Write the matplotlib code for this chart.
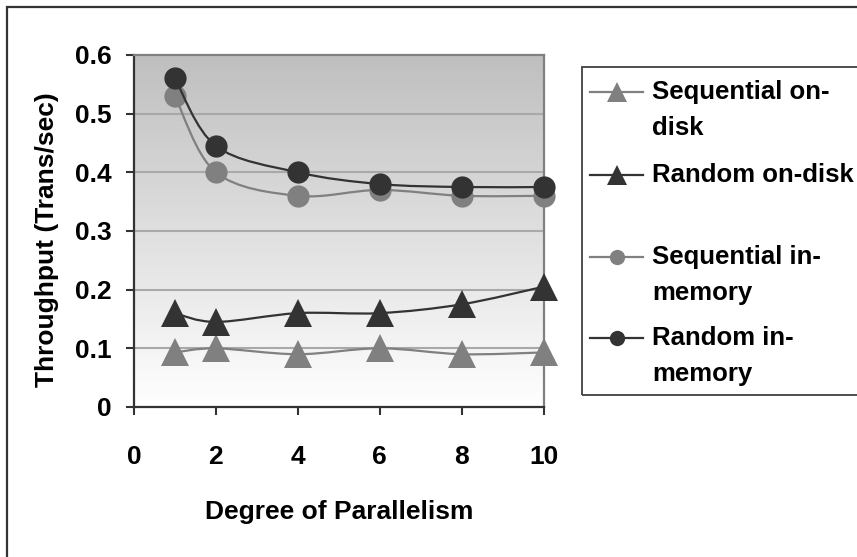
import numpy as np
import matplotlib
matplotlib.use("Agg")
import matplotlib.pyplot as plt
from matplotlib.path import Path
from matplotlib.patches import PathPatch, Rectangle
from matplotlib.lines import Line2D
from matplotlib.colors import LinearSegmentedColormap

# degree of parallelism and measured throughput per configuration
parallelism = [1, 2, 4, 6, 8, 10]
seq_disk = [0.093, 0.10, 0.09, 0.10, 0.09, 0.093]
rand_disk = [0.16, 0.145, 0.16, 0.16, 0.175, 0.205]
seq_mem = [0.53, 0.40, 0.36, 0.37, 0.36, 0.36]
rand_mem = [0.56, 0.445, 0.40, 0.38, 0.375, 0.375]

series_names = ["Sequential on-\ndisk", "Random on-disk",
                "Sequential in-\nmemory", "Random in-\nmemory"]
x_ticks = [0, 2, 4, 6, 8, 10]
y_ticks = [0, 0.1, 0.2, 0.3, 0.4, 0.5, 0.6]

LIGHT = "#808080"
DARK = "#333333"
W, H = 857, 557

plt.rcParams["font.family"] = ["Liberation Sans", "DejaVu Sans"]
plt.rcParams["font.weight"] = "bold"
FS = 19
LEG_FS = 18.5


def fx(x):
    return x / W


def fy(y):
    return 1 - y / H


def smooth_path(xs, ys):
    # cubic bezier through the points, like a spreadsheet "smoothed line"
    pts = np.column_stack([xs, ys]).astype(float)
    n = len(pts)
    verts = [pts[0]]
    codes = [Path.MOVETO]
    for i in range(n - 1):
        p0 = pts[max(i - 1, 0)]
        p1 = pts[i]
        p2 = pts[i + 1]
        p3 = pts[min(i + 2, n - 1)]
        c1 = p1 + (p2 - p0) / 6
        c2 = p2 - (p3 - p1) / 6
        verts += [c1, c2, p2]
        codes += [Path.CURVE4] * 3
    return Path(verts, codes)


fig = plt.figure(figsize=(W / 100, H / 100), dpi=100)
fig.patch.set_facecolor("white")

# outer chart frame (runs off the right and bottom edges)
fig.add_artist(Rectangle((fx(7), fy(600)), fx(900 - 7), (600 - 7) / H,
                         transform=fig.transFigure, fill=False,
                         edgecolor=DARK, linewidth=1.6))

left, right, top, bottom = 134, 543.5, 55, 407
ax = fig.add_axes([fx(left), fy(bottom), fx(right - left), (bottom - top) / H])

# plot area fill: grey at the top fading to white
grad = np.linspace(1, 0, 256).reshape(-1, 1)
cmap = LinearSegmentedColormap.from_list("bg", ["#ffffff", "#bfbfbf"])
ax.imshow(grad, extent=[0, 10, 0, 0.6], aspect="auto", cmap=cmap,
          vmin=0, vmax=1, zorder=0, interpolation="bilinear")

for yv in y_ticks[1:-1]:
    ax.axhline(yv, color="#a9a9a9", linewidth=1.5, zorder=1)

styles = [
    (seq_disk, LIGHT, "^", 20),
    (rand_disk, DARK, "^", 20),
    (seq_mem, LIGHT, "o", 16),
    (rand_mem, DARK, "o", 16),
]
for k, (vals, col, mk, ms) in enumerate(styles):
    ax.add_patch(PathPatch(smooth_path(parallelism, vals), fill=False,
                           edgecolor=col, linewidth=1.6, zorder=2 + 2 * k))
    ax.plot(parallelism, vals, linestyle="none", marker=mk, markersize=ms,
            color=col, markeredgewidth=0, zorder=3 + 2 * k, clip_on=False)

ax.set_xlim(0, 10)
ax.set_ylim(0, 0.6)
ax.set_xticks(x_ticks)
ax.set_yticks(y_ticks)
ax.set_yticklabels(["0", "0.1", "0.2", "0.3", "0.4", "0.5", "0.6"])
ax.tick_params(axis="both", direction="out", length=6, width=1.5,
               color=DARK, labelsize=FS)
ax.tick_params(axis="y", pad=10)
ax.tick_params(axis="x", pad=21)
for lab in ax.get_xticklabels() + ax.get_yticklabels():
    lab.set_fontweight("bold")
for side in ("left", "bottom"):
    ax.spines[side].set_color(DARK)
    ax.spines[side].set_linewidth(1.6)
for side in ("top", "right"):
    ax.spines[side].set_color(LIGHT)
    ax.spines[side].set_linewidth(1.6)

fig.text(fx(339), fy(512), "Degree of Parallelism", fontsize=FS,
         fontweight="bold", ha="center", va="center")
fig.text(fx(47), fy(240), "Throughput (Trans/sec)", fontsize=FS,
         fontweight="bold", ha="center", va="center", rotation=90)

# legend box
fig.add_artist(Rectangle((fx(582), fy(395)), fx(900 - 582), (395 - 67) / H,
                         transform=fig.transFigure, fill=False,
                         edgecolor="#404040", linewidth=1.3))
legend_marks = [(LIGHT, "^", 15), (DARK, "^", 15), (LIGHT, "o", 11), (DARK, "o", 11)]
row_y = [92, 175, 257, 338]
for name, (col, mk, ms), ry in zip(series_names, legend_marks, row_y):
    fig.add_artist(Line2D([fx(590), fx(643)], [fy(ry), fy(ry)],
                          transform=fig.transFigure, color=col, linewidth=1.6))
    fig.add_artist(Line2D([fx(617)], [fy(ry)], transform=fig.transFigure,
                          marker=mk, markersize=ms, color=col,
                          markeredgewidth=0, linestyle="none"))
    for i, line in enumerate(name.split("\n")):
        fig.text(fx(652), fy(ry + 36 * i), line, fontsize=LEG_FS,
                 fontweight="bold", ha="left", va="center")

fig.savefig("out.png", dpi=100)
